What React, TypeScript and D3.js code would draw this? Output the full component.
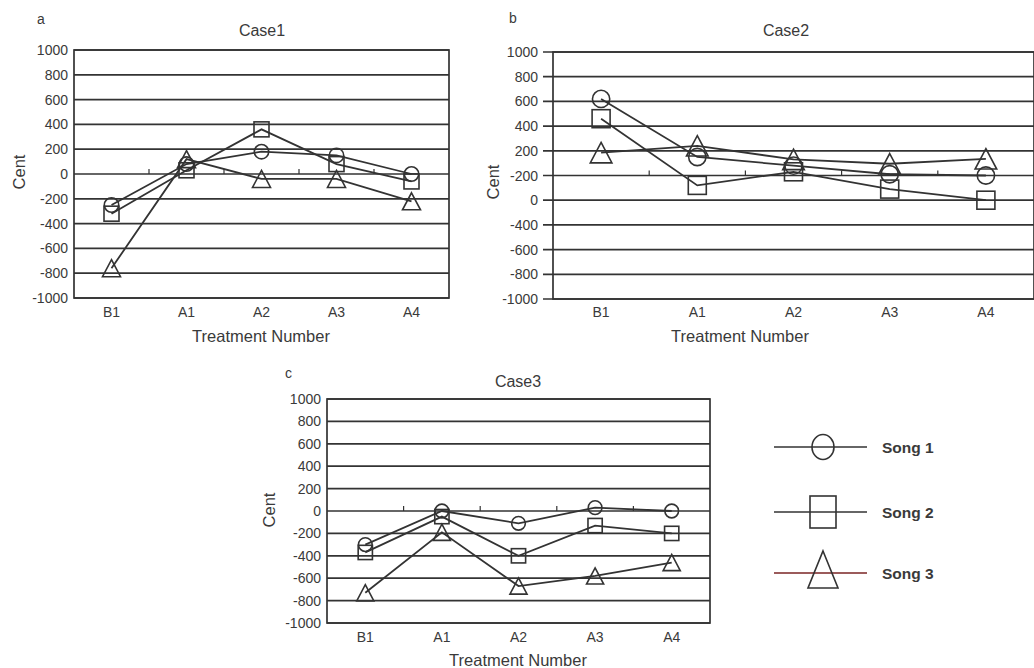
import React from "react";
import * as d3 from "d3";

const categories = ["B1", "A1", "A2", "A3", "A4"];
const yTickValues = [1000, 800, 600, 400, 200, 0, -200, -400, -600, -800, -1000];
const case1TickLabels = ["1000", "800", "600", "400", "200", "0", "-200", "-400", "-600", "-800", "-1000"];
const case2TickLabels = ["1000", "800", "600", "400", "200", "-200", "0", "-400", "-600", "-800", "-1000"];
const case3TickLabels = ["1000", "800", "600", "400", "200", "0", "-200", "-400", "-600", "-800", "-1000"];

const case1Song1 = [-250, 80, 180, 150, 0];
const case1Song2 = [-320, 30, 360, 80, -60];
const case1Song3 = [-760, 120, -40, -40, -220];

const case2Song1 = [620, 150, 80, 10, 0];
const case2Song2 = [460, -80, 30, -110, -200];
const case2Song3 = [185, 240, 130, 95, 135];

const case3Song1 = [-300, 0, -110, 30, 0];
const case3Song2 = [-370, -50, -400, -130, -200];
const case3Song3 = [-730, -190, -670, -580, -460];

const seriesNames = ["Song 1", "Song 2", "Song 3"];

type Panel = {
  letter: string;
  title: string;
  left: number; right: number; top: number; bottom: number;
  letterX: number; letterY: number;
  titleX: number; titleY: number;
  xTitleX: number; xTitleY: number; xLabelY: number;
  centX: number; centY: number;
  labelRight: number;
  outerTick: number;
  tickLabels: string[];
  series: number[][];
  msize: number;
};

const panels: Panel[] = [
  {
    letter: "a", title: "Case1",
    left: 74, right: 449, top: 50, bottom: 298,
    letterX: 37, letterY: 24, titleX: 262, titleY: 36,
    xTitleX: 261, xTitleY: 342, xLabelY: 317,
    centX: 25, centY: 172, labelRight: 68, outerTick: 0,
    tickLabels: case1TickLabels,
    series: [case1Song1, case1Song2, case1Song3], msize: 1.0,
  },
  {
    letter: "b", title: "Case2",
    left: 553, right: 1034, top: 52, bottom: 299,
    letterX: 509, letterY: 23, titleX: 786, titleY: 36,
    xTitleX: 740, xTitleY: 342, xLabelY: 317,
    centX: 499, centY: 182, labelRight: 538, outerTick: 10,
    tickLabels: case2TickLabels,
    series: [case2Song1, case2Song2, case2Song3], msize: 1.2,
  },
  {
    letter: "c", title: "Case3",
    left: 327, right: 710, top: 399, bottom: 623,
    letterX: 285, letterY: 378, titleX: 518, titleY: 387,
    xTitleX: 518, xTitleY: 666, xLabelY: 642,
    centX: 275, centY: 510, labelRight: 321, outerTick: 0,
    tickLabels: case3TickLabels,
    series: [case3Song1, case3Song2, case3Song3], msize: 0.95,
  },
];

const INK = "#333";
const TXT = "#3a3a3a";
const FONT = "'Liberation Sans', Arial, sans-serif";

function Marker({ kind, x, y, s, stroke }: { kind: number; x: number; y: number; s: number; stroke: string }) {
  if (kind === 0) {
    return <ellipse cx={x} cy={y} rx={7.2 * s} ry={7.2 * s} fill="none" stroke={stroke} strokeWidth={1.6} />;
  }
  if (kind === 1) {
    const w = 15 * s;
    return <rect x={x - w / 2} y={y - w / 2} width={w} height={w} fill="none" stroke={stroke} strokeWidth={1.6} />;
  }
  const w = 18 * s, h = 17 * s;
  return (
    <path
      d={`M${x},${y - h / 2}L${x + w / 2},${y + h / 2}L${x - w / 2},${y + h / 2}Z`}
      fill="none" stroke={stroke} strokeWidth={1.6}
    />
  );
}

function PanelView({ p }: { p: Panel }) {
  const x = d3.scaleBand<string>().domain(categories).range([p.left, p.right]);
  const y = d3.scaleLinear().domain([-1000, 1000]).range([p.bottom, p.top]);
  const cx = (c: string) => (x(c) as number) + x.bandwidth() / 2;
  const line = d3.line<number>().x((_, i) => cx(categories[i])).y((v) => y(v));
  const zeroY = y(0);
  return (
    <g>
      <text x={p.letterX} y={p.letterY} fontSize={14} fontFamily={FONT} fill={TXT}>{p.letter}</text>
      <text x={p.titleX} y={p.titleY} fontSize={16} fontFamily={FONT} fill={TXT} textAnchor="middle">{p.title}</text>
      {yTickValues.map((v, i) => (
        <g key={v}>
          <line x1={p.left - p.outerTick} x2={p.right} y1={y(v)} y2={y(v)} stroke={INK} strokeWidth={1.7} />
          <text x={p.labelRight} y={y(v) + 5} fontSize={14} fontFamily={FONT} fill={TXT} textAnchor="end">{p.tickLabels[i]}</text>
        </g>
      ))}
      <rect x={p.left} y={p.top} width={p.right - p.left} height={p.bottom - p.top} fill="none" stroke={INK} strokeWidth={1.7} />
      {categories.slice(1).map((c) => (
        <line key={c} x1={x(c) as number} x2={x(c) as number} y1={zeroY} y2={zeroY - 5} stroke={INK} strokeWidth={1.2} />
      ))}
      {categories.map((c) => (
        <text key={c} x={cx(c)} y={p.xLabelY} fontSize={14} fontFamily={FONT} fill={TXT} textAnchor="middle">{c}</text>
      ))}
      <text x={p.xTitleX} y={p.xTitleY} fontSize={16.5} fontFamily={FONT} fill={TXT} textAnchor="middle">Treatment Number</text>
      <text transform={`translate(${p.centX},${p.centY}) rotate(-90)`} fontSize={16.5} fontFamily={FONT} fill={TXT} textAnchor="middle">Cent</text>
      {p.series.map((vals, si) => (
        <g key={si}>
          <path d={line(vals) || ""} fill="none" stroke={INK} strokeWidth={1.8} />
          {vals.map((v, i) => (
            <Marker key={i} kind={si} x={cx(categories[i])} y={y(v)} s={p.msize} stroke={INK} />
          ))}
        </g>
      ))}
    </g>
  );
}

const legendYs = [447, 512, 573];
const legendLineColors = [INK, INK, "#7a2424"];

export default function App() {
  return (
    <svg width={1034} height={668} style={{ position: "absolute", left: 0, top: 0, background: "#fff" }}>
      <rect x={0} y={0} width={1034} height={668} fill="#fff" />
      {panels.map((p) => <PanelView key={p.letter} p={p} />)}
      {seriesNames.map((name, i) => (
        <g key={name}>
          <line x1={774} x2={867} y1={legendYs[i]} y2={legendYs[i]} stroke={legendLineColors[i]} strokeWidth={1.6} />
          {i === 0 && <ellipse cx={823} cy={legendYs[i]} rx={11} ry={12.5} fill="none" stroke={INK} strokeWidth={1.6} />}
          {i === 1 && <rect x={810} y={legendYs[i] - 16} width={26} height={32} fill="none" stroke={INK} strokeWidth={1.6} />}
          {i === 2 && (
            <path d={`M823,${legendYs[i] - 22}L838,${legendYs[i] + 15}L808,${legendYs[i] + 15}Z`} fill="none" stroke={INK} strokeWidth={1.6} />
          )}
          <text x={882} y={legendYs[i] + 5.5} fontSize={15.5} fontWeight="bold" fontFamily={FONT} fill={TXT}>{name}</text>
        </g>
      ))}
    </svg>
  );
}
